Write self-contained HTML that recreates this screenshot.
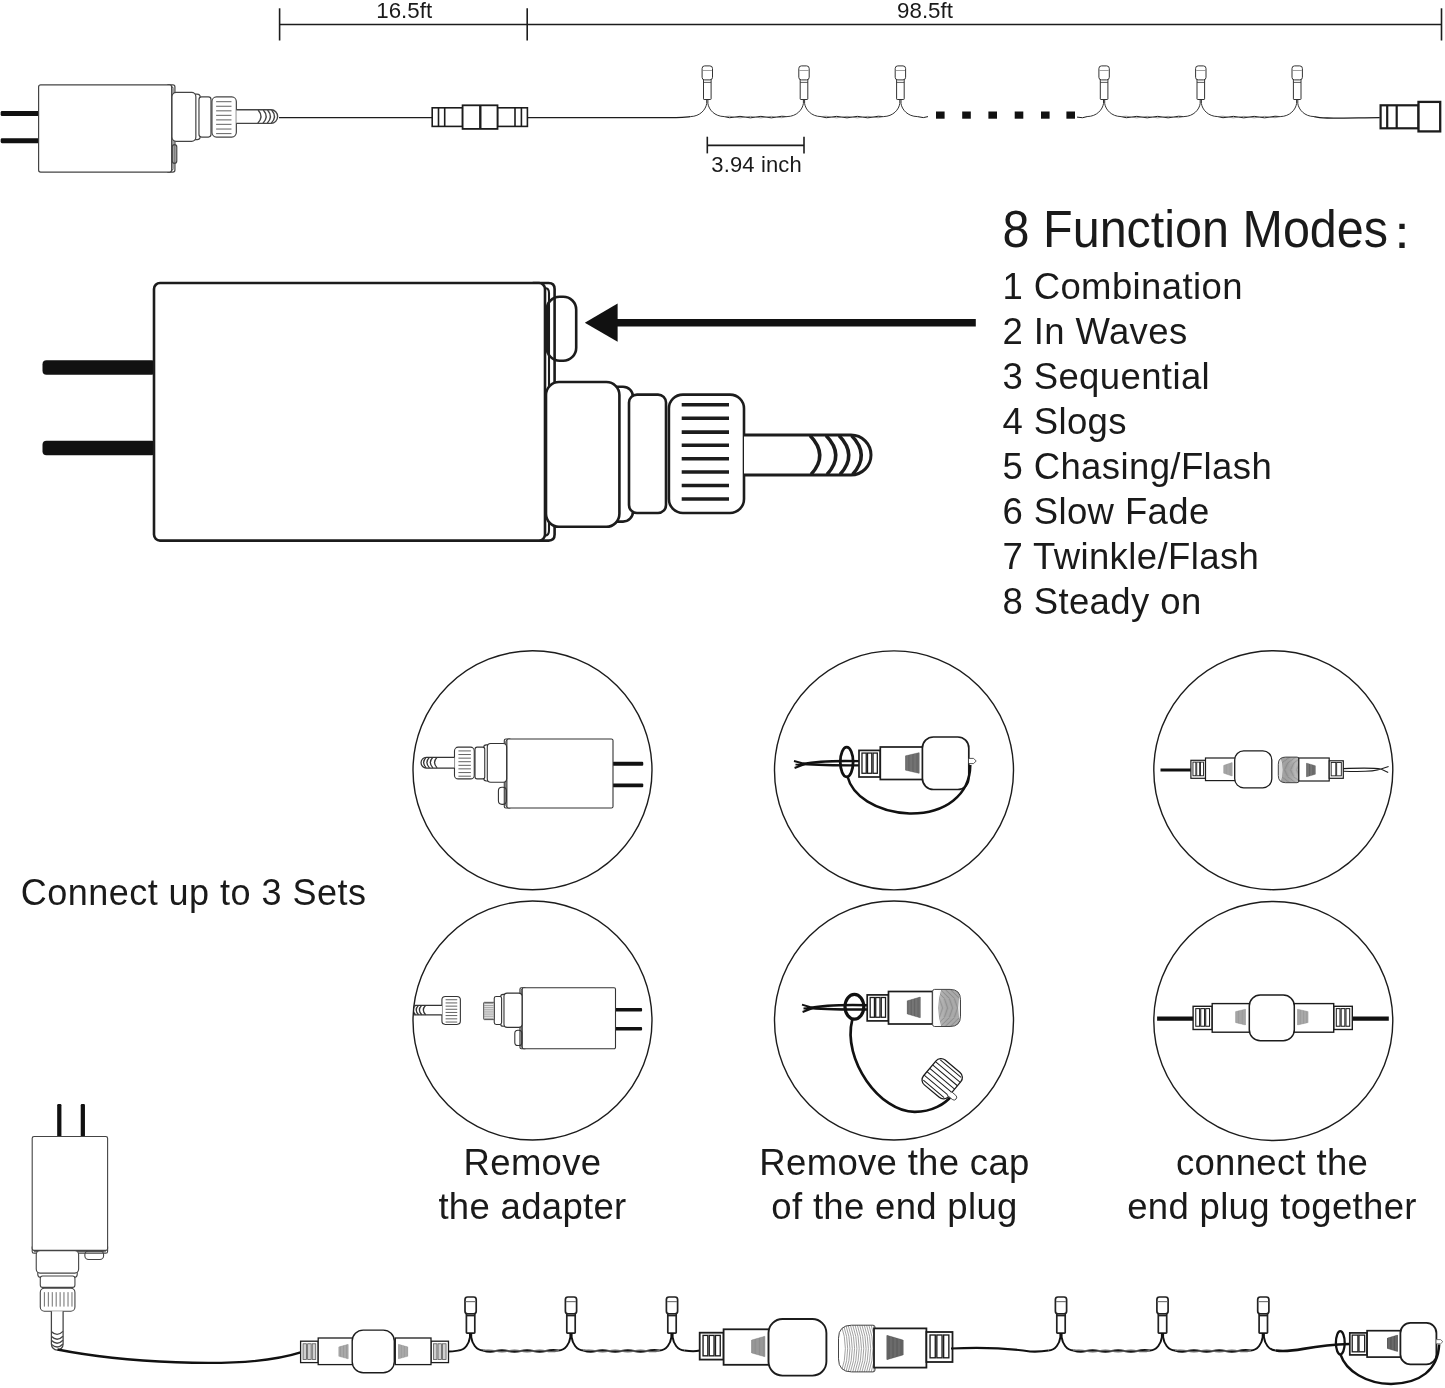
<!DOCTYPE html>
<html lang="en">
<head>
<meta charset="utf-8">
<title>8 Function Modes - Connect up to 3 Sets</title>
<style>
html,body{margin:0;padding:0;background:#fff;}
body{width:1445px;height:1388px;overflow:hidden;font-family:"Liberation Sans",sans-serif;}
svg{display:block;will-change:transform;}
svg text{font-family:"Liberation Sans",sans-serif;}
</style>
</head>
<body>
<svg width="1445" height="1388" viewBox="0 0 1445 1388">
<rect x="0" y="0" width="1445" height="1388" fill="#ffffff"/>
<line x1="279.50" y1="24.50" x2="1441.50" y2="24.50" stroke="#1c1c1c" stroke-width="1.6" />
<line x1="279.60" y1="8.30" x2="279.60" y2="40.50" stroke="#1c1c1c" stroke-width="1.6" />
<line x1="527.20" y1="8.30" x2="527.20" y2="40.50" stroke="#1c1c1c" stroke-width="1.6" />
<line x1="1441.50" y1="8.30" x2="1441.50" y2="40.50" stroke="#1c1c1c" stroke-width="1.6" />
<text x="404.2" y="17.7" font-size="22.3" text-anchor="middle" fill="#1a1a1a"  stroke="#fff" stroke-width="0.00" paint-order="fill stroke" stroke-linejoin="round">16.5ft</text>
<text x="925" y="17.8" font-size="22.3" text-anchor="middle" fill="#1a1a1a"  stroke="#fff" stroke-width="0.00" paint-order="fill stroke" stroke-linejoin="round">98.5ft</text>
<g transform="translate(38.6,84.9) scale(0.3403,0.3385)">
<rect x="-111.5" y="77.35" width="113" height="14.5" rx="4" fill="#111"/>
<rect x="-111.5" y="157.75" width="113" height="14.5" rx="4" fill="#111"/>
<path d="M380,0 H394.6 Q400.6,0 400.6,6 V251.6 Q400.6,257.6 394.6,257.6 H380 Z" fill="#fff" stroke="#444" stroke-width="1.2" vector-effect="non-scaling-stroke"/>
<rect x="0.00" y="0.00" width="391.00" height="257.60" rx="6" ry="6" fill="#fff" stroke="#444" stroke-width="1.2" vector-effect="non-scaling-stroke"/>
<path d="M391,5 Q395,5 395,10 V247.6 Q395,252.6 391,252.6" fill="none" stroke="#444" stroke-width="0.96" vector-effect="non-scaling-stroke"/>
<rect x="392.70" y="176.70" width="13.30" height="55.10" rx="6.650000000000006" ry="6.650000000000006" fill="none" stroke="#444" stroke-width="1.2" vector-effect="non-scaling-stroke"/>
<g transform="translate(17.640,265.6) scale(0.955,-1)">
<rect x="420.00" y="103.70" width="59.00" height="134.90" rx="10" ry="10" fill="#fff" stroke="#444" stroke-width="1.2" vector-effect="non-scaling-stroke"/>
<rect x="392.00" y="99.00" width="73.40" height="144.80" rx="13" ry="13" fill="#fff" stroke="#444" stroke-width="1.2" vector-effect="non-scaling-stroke"/>
<rect x="475.00" y="111.60" width="37.00" height="118.40" rx="8" ry="8" fill="#fff" stroke="#444" stroke-width="1.2" vector-effect="non-scaling-stroke"/>
<rect x="514.90" y="111.60" width="75.10" height="118.40" rx="14" ry="14" fill="#fff" stroke="#444" stroke-width="1.2" vector-effect="non-scaling-stroke"/>
<line x1="527.70" y1="121.70" x2="575.00" y2="121.70" stroke="#444" stroke-width="0.84" vector-effect="non-scaling-stroke"/>
<line x1="527.70" y1="135.20" x2="575.00" y2="135.20" stroke="#444" stroke-width="0.84" vector-effect="non-scaling-stroke"/>
<line x1="527.70" y1="149.10" x2="575.00" y2="149.10" stroke="#444" stroke-width="0.84" vector-effect="non-scaling-stroke"/>
<line x1="527.70" y1="162.20" x2="575.00" y2="162.20" stroke="#444" stroke-width="0.84" vector-effect="non-scaling-stroke"/>
<line x1="527.70" y1="175.70" x2="575.00" y2="175.70" stroke="#444" stroke-width="0.84" vector-effect="non-scaling-stroke"/>
<line x1="527.70" y1="189.00" x2="575.00" y2="189.00" stroke="#444" stroke-width="0.84" vector-effect="non-scaling-stroke"/>
<line x1="527.70" y1="202.50" x2="575.00" y2="202.50" stroke="#444" stroke-width="0.84" vector-effect="non-scaling-stroke"/>
<line x1="527.70" y1="216.00" x2="575.00" y2="216.00" stroke="#444" stroke-width="0.84" vector-effect="non-scaling-stroke"/>
<path d="M590,152 H697 A20,20 0 0 1 697,192 H590" fill="#fff" stroke="#444" stroke-width="1.38" vector-effect="non-scaling-stroke"/>
<path d="M656,152.5 Q675,172 657,191.5" fill="none" stroke="#444" stroke-width="1.38" vector-effect="non-scaling-stroke"/>
<path d="M672,152.5 Q691,172 673,191.5" fill="none" stroke="#444" stroke-width="1.38" vector-effect="non-scaling-stroke"/>
<path d="M685,152.5 Q704,172 686,191.5" fill="none" stroke="#444" stroke-width="1.38" vector-effect="non-scaling-stroke"/>
<path d="M697.5,152.5 Q716.5,172 698.5,191.5" fill="none" stroke="#444" stroke-width="1.38" vector-effect="non-scaling-stroke"/>
</g>
</g>
<line x1="279.00" y1="117.60" x2="432.20" y2="117.60" stroke="#1c1c1c" stroke-width="1.2" />
<rect x="432.20" y="107.80" width="30.40" height="18.60" rx="0" ry="0" fill="#fff" stroke="#1c1c1c" stroke-width="1.6" />
<line x1="438.50" y1="107.80" x2="438.50" y2="126.40" stroke="#1c1c1c" stroke-width="1.6" />
<line x1="444.70" y1="107.80" x2="444.70" y2="126.40" stroke="#1c1c1c" stroke-width="1.6" />
<rect x="497.50" y="107.80" width="29.90" height="18.60" rx="0" ry="0" fill="#fff" stroke="#1c1c1c" stroke-width="1.6" />
<line x1="515.00" y1="107.80" x2="515.00" y2="126.40" stroke="#1c1c1c" stroke-width="1.6" />
<line x1="521.40" y1="107.80" x2="521.40" y2="126.40" stroke="#1c1c1c" stroke-width="1.6" />
<rect x="462.60" y="105.30" width="34.90" height="23.60" rx="0" ry="0" fill="#fff" stroke="#1c1c1c" stroke-width="1.8" />
<line x1="480.30" y1="105.30" x2="480.30" y2="128.90" stroke="#1c1c1c" stroke-width="2.4" />
<path d="M527.4,117.6 H676 C683,117.6 686,117.1 690.3,116.6" fill="none" stroke="#1c1c1c" stroke-width="1.2" />
<rect x="703.50" y="78.90" width="7.60" height="20.60" rx="0.6" ry="0.6" fill="#fff" stroke="#333" stroke-width="1.0" />
<rect x="702.10" y="65.90" width="10.40" height="14.00" rx="2.6" ry="2.6" fill="#fff" stroke="#333" stroke-width="1.0" />
<line x1="702.70" y1="70.50" x2="711.90" y2="70.50" stroke="#777" stroke-width="0.7" />
<line x1="703.50" y1="82.40" x2="711.10" y2="82.40" stroke="#333" stroke-width="0.8" />
<path d="M706.7,99.5 V103.5 C705.8,109.5 700.2,116.4 690.3,116.6" fill="none" stroke="#333" stroke-width="1.0" />
<path d="M707.9,99.5 V103.5 C708.8,109.5 714.4,116.4 724.3,116.6" fill="none" stroke="#333" stroke-width="1.0" />
<rect x="800.20" y="78.90" width="7.60" height="20.60" rx="0.6" ry="0.6" fill="#fff" stroke="#333" stroke-width="1.0" />
<rect x="798.80" y="65.90" width="10.40" height="14.00" rx="2.6" ry="2.6" fill="#fff" stroke="#333" stroke-width="1.0" />
<line x1="799.40" y1="70.50" x2="808.60" y2="70.50" stroke="#777" stroke-width="0.7" />
<line x1="800.20" y1="82.40" x2="807.80" y2="82.40" stroke="#333" stroke-width="0.8" />
<path d="M803.4,99.5 V103.5 C802.5,109.5 796.9,116.4 787.0,116.6" fill="none" stroke="#333" stroke-width="1.0" />
<path d="M804.6,99.5 V103.5 C805.5,109.5 811.1,116.4 821.0,116.6" fill="none" stroke="#333" stroke-width="1.0" />
<rect x="896.60" y="78.90" width="7.60" height="20.60" rx="0.6" ry="0.6" fill="#fff" stroke="#333" stroke-width="1.0" />
<rect x="895.20" y="65.90" width="10.40" height="14.00" rx="2.6" ry="2.6" fill="#fff" stroke="#333" stroke-width="1.0" />
<line x1="895.80" y1="70.50" x2="905.00" y2="70.50" stroke="#777" stroke-width="0.7" />
<line x1="896.60" y1="82.40" x2="904.20" y2="82.40" stroke="#333" stroke-width="0.8" />
<path d="M899.8,99.5 V103.5 C898.9,109.5 893.3,116.4 883.4,116.6" fill="none" stroke="#333" stroke-width="1.0" />
<path d="M901.0,99.5 V103.5 C901.9,109.5 907.5,116.4 917.4,116.6" fill="none" stroke="#333" stroke-width="1.0" />
<path d="M724.3,116.6 Q729.5,118.6 734.8,117.1 Q740.0,115.6 745.2,117.1 Q750.4,118.6 755.6,117.1 Q760.9,115.6 766.1,117.1 Q771.3,118.6 776.5,117.1 Q781.8,115.6 787.0,116.6" fill="none" stroke="#1c1c1c" stroke-width="1.0" />
<path d="M724.3,116.6 Q729.5,115.6 734.8,117.1 Q740.0,118.6 745.2,117.1 Q750.4,115.6 755.6,117.1 Q760.9,118.6 766.1,117.1 Q771.3,115.6 776.5,117.1 Q781.8,118.6 787.0,116.6" fill="none" stroke="#666" stroke-width="0.7" />
<path d="M821.0,116.6 Q826.2,118.6 831.4,117.1 Q836.6,115.6 841.8,117.1 Q847.0,118.6 852.2,117.1 Q857.4,115.6 862.6,117.1 Q867.8,118.6 873.0,117.1 Q878.2,115.6 883.4,116.6" fill="none" stroke="#1c1c1c" stroke-width="1.0" />
<path d="M821.0,116.6 Q826.2,115.6 831.4,117.1 Q836.6,118.6 841.8,117.1 Q847.0,115.6 852.2,117.1 Q857.4,118.6 862.6,117.1 Q867.8,115.6 873.0,117.1 Q878.2,118.6 883.4,116.6" fill="none" stroke="#666" stroke-width="0.7" />
<path d="M917.4,116.6 Q924,118.6 928,116.6" fill="none" stroke="#1c1c1c" stroke-width="1.0" />
<rect x="936" y="111.5" width="8.6" height="7.2" fill="#111"/>
<rect x="962.2" y="111.5" width="8.6" height="7.2" fill="#111"/>
<rect x="988.4" y="111.5" width="8.6" height="7.2" fill="#111"/>
<rect x="1014.7" y="111.5" width="8.6" height="7.2" fill="#111"/>
<rect x="1041" y="111.5" width="8.6" height="7.2" fill="#111"/>
<rect x="1066.4" y="111.5" width="8.6" height="7.2" fill="#111"/>
<rect x="1100.30" y="78.90" width="7.60" height="20.60" rx="0.6" ry="0.6" fill="#fff" stroke="#333" stroke-width="1.0" />
<rect x="1098.90" y="65.90" width="10.40" height="14.00" rx="2.6" ry="2.6" fill="#fff" stroke="#333" stroke-width="1.0" />
<line x1="1099.50" y1="70.50" x2="1108.70" y2="70.50" stroke="#777" stroke-width="0.7" />
<line x1="1100.30" y1="82.40" x2="1107.90" y2="82.40" stroke="#333" stroke-width="0.8" />
<path d="M1103.5,99.5 V103.5 C1102.6,109.5 1097.0,116.4 1087.1,116.6" fill="none" stroke="#333" stroke-width="1.0" />
<path d="M1104.7,99.5 V103.5 C1105.6,109.5 1111.2,116.4 1121.1,116.6" fill="none" stroke="#333" stroke-width="1.0" />
<rect x="1197.00" y="78.90" width="7.60" height="20.60" rx="0.6" ry="0.6" fill="#fff" stroke="#333" stroke-width="1.0" />
<rect x="1195.60" y="65.90" width="10.40" height="14.00" rx="2.6" ry="2.6" fill="#fff" stroke="#333" stroke-width="1.0" />
<line x1="1196.20" y1="70.50" x2="1205.40" y2="70.50" stroke="#777" stroke-width="0.7" />
<line x1="1197.00" y1="82.40" x2="1204.60" y2="82.40" stroke="#333" stroke-width="0.8" />
<path d="M1200.2,99.5 V103.5 C1199.3,109.5 1193.7,116.4 1183.8,116.6" fill="none" stroke="#333" stroke-width="1.0" />
<path d="M1201.4,99.5 V103.5 C1202.3,109.5 1207.9,116.4 1217.8,116.6" fill="none" stroke="#333" stroke-width="1.0" />
<rect x="1293.40" y="78.90" width="7.60" height="20.60" rx="0.6" ry="0.6" fill="#fff" stroke="#333" stroke-width="1.0" />
<rect x="1292.00" y="65.90" width="10.40" height="14.00" rx="2.6" ry="2.6" fill="#fff" stroke="#333" stroke-width="1.0" />
<line x1="1292.60" y1="70.50" x2="1301.80" y2="70.50" stroke="#777" stroke-width="0.7" />
<line x1="1293.40" y1="82.40" x2="1301.00" y2="82.40" stroke="#333" stroke-width="0.8" />
<path d="M1296.6,99.5 V103.5 C1295.7,109.5 1290.1,116.4 1280.2,116.6" fill="none" stroke="#333" stroke-width="1.0" />
<path d="M1297.8,99.5 V103.5 C1298.7,109.5 1304.3,116.4 1314.2,116.6" fill="none" stroke="#333" stroke-width="1.0" />
<path d="M1077,117.1 Q1083,118.6 1087.1,116.6" fill="none" stroke="#1c1c1c" stroke-width="1.0" />
<path d="M1121.1,116.6 Q1126.3,118.6 1131.5,117.1 Q1136.8,115.6 1142.0,117.1 Q1147.2,118.6 1152.4,117.1 Q1157.7,115.6 1162.9,117.1 Q1168.1,118.6 1173.3,117.1 Q1178.6,115.6 1183.8,116.6" fill="none" stroke="#1c1c1c" stroke-width="1.0" />
<path d="M1121.1,116.6 Q1126.3,115.6 1131.5,117.1 Q1136.8,118.6 1142.0,117.1 Q1147.2,115.6 1152.4,117.1 Q1157.7,118.6 1162.9,117.1 Q1168.1,115.6 1173.3,117.1 Q1178.6,118.6 1183.8,116.6" fill="none" stroke="#666" stroke-width="0.7" />
<path d="M1217.8,116.6 Q1223.0,118.6 1228.2,117.1 Q1233.4,115.6 1238.6,117.1 Q1243.8,118.6 1249.0,117.1 Q1254.2,115.6 1259.4,117.1 Q1264.6,118.6 1269.8,117.1 Q1275.0,115.6 1280.2,116.6" fill="none" stroke="#1c1c1c" stroke-width="1.0" />
<path d="M1217.8,116.6 Q1223.0,115.6 1228.2,117.1 Q1233.4,118.6 1238.6,117.1 Q1243.8,115.6 1249.0,117.1 Q1254.2,118.6 1259.4,117.1 Q1264.6,115.6 1269.8,117.1 Q1275.0,118.6 1280.2,116.6" fill="none" stroke="#666" stroke-width="0.7" />
<path d="M1314.2,116.6 C1322,118.6 1330,118.1 1379.7,117.6" fill="none" stroke="#1c1c1c" stroke-width="1.3" />
<rect x="1380.60" y="105.30" width="37.90" height="23.00" rx="0" ry="0" fill="#fff" stroke="#1c1c1c" stroke-width="2.2" />
<line x1="1387.20" y1="105.30" x2="1387.20" y2="128.30" stroke="#1c1c1c" stroke-width="2.2" />
<line x1="1396.70" y1="105.30" x2="1396.70" y2="128.30" stroke="#1c1c1c" stroke-width="2.2" />
<rect x="1418.50" y="101.90" width="21.70" height="29.50" rx="0" ry="0" fill="#fff" stroke="#1c1c1c" stroke-width="2.3" />
<line x1="707.30" y1="145.30" x2="804.00" y2="145.30" stroke="#1c1c1c" stroke-width="1.7" />
<line x1="707.30" y1="136.70" x2="707.30" y2="153.40" stroke="#1c1c1c" stroke-width="1.6" />
<line x1="804.00" y1="136.70" x2="804.00" y2="153.40" stroke="#1c1c1c" stroke-width="1.6" />
<text x="756.6" y="171.5" font-size="22" text-anchor="middle" fill="#1a1a1a"  letter-spacing="0.15" stroke="#fff" stroke-width="0.00" paint-order="fill stroke" stroke-linejoin="round">3.94 inch</text>
<g transform="translate(154,283)">
<rect x="-111.5" y="77.35" width="113" height="14.5" rx="4" fill="#111"/>
<rect x="-111.5" y="157.75" width="113" height="14.5" rx="4" fill="#111"/>
<path d="M380,0 H394.6 Q400.6,0 400.6,6 V251.6 Q400.6,257.6 394.6,257.6 H380 Z" fill="#fff" stroke="#1c1c1c" stroke-width="2.6" vector-effect="non-scaling-stroke"/>
<rect x="0.00" y="0.00" width="391.00" height="257.60" rx="6" ry="6" fill="#fff" stroke="#1c1c1c" stroke-width="2.6" vector-effect="non-scaling-stroke"/>
<path d="M391,5 Q395,5 395,10 V247.6 Q395,252.6 391,252.6" fill="none" stroke="#1c1c1c" stroke-width="2.08" vector-effect="non-scaling-stroke"/>
<rect x="392.70" y="13.70" width="29.50" height="64.00" rx="13" ry="13" fill="none" stroke="#1c1c1c" stroke-width="2.6" vector-effect="non-scaling-stroke"/>
<g transform="translate(0.000,0) scale(1.0,1)">
<rect x="420.00" y="103.70" width="59.00" height="134.90" rx="10" ry="10" fill="#fff" stroke="#1c1c1c" stroke-width="2.6" vector-effect="non-scaling-stroke"/>
<rect x="392.00" y="99.00" width="73.40" height="144.80" rx="13" ry="13" fill="#fff" stroke="#1c1c1c" stroke-width="2.6" vector-effect="non-scaling-stroke"/>
<rect x="475.00" y="111.60" width="37.00" height="118.40" rx="8" ry="8" fill="#fff" stroke="#1c1c1c" stroke-width="2.6" vector-effect="non-scaling-stroke"/>
<rect x="514.90" y="111.60" width="75.10" height="118.40" rx="14" ry="14" fill="#fff" stroke="#1c1c1c" stroke-width="2.6" vector-effect="non-scaling-stroke"/>
<line x1="527.70" y1="121.70" x2="575.00" y2="121.70" stroke="#1c1c1c" stroke-width="3.6399999999999997" vector-effect="non-scaling-stroke"/>
<line x1="527.70" y1="135.20" x2="575.00" y2="135.20" stroke="#1c1c1c" stroke-width="3.6399999999999997" vector-effect="non-scaling-stroke"/>
<line x1="527.70" y1="149.10" x2="575.00" y2="149.10" stroke="#1c1c1c" stroke-width="3.6399999999999997" vector-effect="non-scaling-stroke"/>
<line x1="527.70" y1="162.20" x2="575.00" y2="162.20" stroke="#1c1c1c" stroke-width="3.6399999999999997" vector-effect="non-scaling-stroke"/>
<line x1="527.70" y1="175.70" x2="575.00" y2="175.70" stroke="#1c1c1c" stroke-width="3.6399999999999997" vector-effect="non-scaling-stroke"/>
<line x1="527.70" y1="189.00" x2="575.00" y2="189.00" stroke="#1c1c1c" stroke-width="3.6399999999999997" vector-effect="non-scaling-stroke"/>
<line x1="527.70" y1="202.50" x2="575.00" y2="202.50" stroke="#1c1c1c" stroke-width="3.6399999999999997" vector-effect="non-scaling-stroke"/>
<line x1="527.70" y1="216.00" x2="575.00" y2="216.00" stroke="#1c1c1c" stroke-width="3.6399999999999997" vector-effect="non-scaling-stroke"/>
<path d="M590,152 H697 A20,20 0 0 1 697,192 H590" fill="#fff" stroke="#1c1c1c" stroke-width="2.9899999999999998" vector-effect="non-scaling-stroke"/>
<path d="M656,152.5 Q675,172 657,191.5" fill="none" stroke="#1c1c1c" stroke-width="3.4384999999999994" vector-effect="non-scaling-stroke"/>
<path d="M672,152.5 Q691,172 673,191.5" fill="none" stroke="#1c1c1c" stroke-width="3.4384999999999994" vector-effect="non-scaling-stroke"/>
<path d="M685,152.5 Q704,172 686,191.5" fill="none" stroke="#1c1c1c" stroke-width="3.4384999999999994" vector-effect="non-scaling-stroke"/>
<path d="M697.5,152.5 Q716.5,172 698.5,191.5" fill="none" stroke="#1c1c1c" stroke-width="3.4384999999999994" vector-effect="non-scaling-stroke"/>
</g>
</g>
<path d="M584.8,322.7 L617.6,303.6 V341.7 Z" fill="#111" stroke="none" stroke-width="0" />
<line x1="616.00" y1="322.70" x2="975.80" y2="322.70" stroke="#111" stroke-width="7.6" />
<g transform="translate(1002.6,247) scale(1,1.06)">
<text x="0" y="0" font-size="48.5" text-anchor="start" fill="#1a1a1a"  stroke="#fff" stroke-width="0.00" paint-order="fill stroke" stroke-linejoin="round">8 Function Modes</text>
</g>
<text x="1377.8" y="247.6" font-size="48" text-anchor="start" fill="#1a1a1a" font-family="Liberation Sans, Noto Sans CJK SC, sans-serif" stroke="#fff" stroke-width="0.00" paint-order="fill stroke" stroke-linejoin="round">：</text>
<text x="1002.4" y="299.1" font-size="36.5" text-anchor="start" fill="#1a1a1a"  letter-spacing="0.4" stroke="#fff" stroke-width="0.00" paint-order="fill stroke" stroke-linejoin="round">1 Combination</text>
<text x="1002.4" y="344.1" font-size="36.5" text-anchor="start" fill="#1a1a1a"  letter-spacing="0.4" stroke="#fff" stroke-width="0.00" paint-order="fill stroke" stroke-linejoin="round">2 In Waves</text>
<text x="1002.4" y="389.1" font-size="36.5" text-anchor="start" fill="#1a1a1a"  letter-spacing="0.4" stroke="#fff" stroke-width="0.00" paint-order="fill stroke" stroke-linejoin="round">3 Sequential</text>
<text x="1002.4" y="434.1" font-size="36.5" text-anchor="start" fill="#1a1a1a"  letter-spacing="0.4" stroke="#fff" stroke-width="0.00" paint-order="fill stroke" stroke-linejoin="round">4 Slogs</text>
<text x="1002.4" y="479.1" font-size="36.5" text-anchor="start" fill="#1a1a1a"  letter-spacing="0.4" stroke="#fff" stroke-width="0.00" paint-order="fill stroke" stroke-linejoin="round">5 Chasing/Flash</text>
<text x="1002.4" y="524.1" font-size="36.5" text-anchor="start" fill="#1a1a1a"  letter-spacing="0.4" stroke="#fff" stroke-width="0.00" paint-order="fill stroke" stroke-linejoin="round">6 Slow Fade</text>
<text x="1002.4" y="569.1" font-size="36.5" text-anchor="start" fill="#1a1a1a"  letter-spacing="0.4" stroke="#fff" stroke-width="0.00" paint-order="fill stroke" stroke-linejoin="round">7 Twinkle/Flash</text>
<text x="1002.4" y="614.1" font-size="36.5" text-anchor="start" fill="#1a1a1a"  letter-spacing="0.4" stroke="#fff" stroke-width="0.00" paint-order="fill stroke" stroke-linejoin="round">8 Steady on</text>
<clipPath id="cl0"><circle cx="532.5" cy="770.3" r="119"/></clipPath>
<clipPath id="cl1"><circle cx="532.5" cy="1020.5" r="119"/></clipPath>
<clipPath id="cl2"><circle cx="894" cy="770.4" r="119"/></clipPath>
<clipPath id="cl3"><circle cx="894" cy="1020.5" r="119"/></clipPath>
<clipPath id="cl4"><circle cx="1273.3" cy="770.2" r="119"/></clipPath>
<clipPath id="cl5"><circle cx="1273.3" cy="1021" r="119"/></clipPath>
<g transform="translate(613,808) scale(-0.2714,-0.268)">
<rect x="-111.5" y="77.35" width="113" height="14.5" rx="4" fill="#111"/>
<rect x="-111.5" y="157.75" width="113" height="14.5" rx="4" fill="#111"/>
<path d="M380,0 H394.6 Q400.6,0 400.6,6 V251.6 Q400.6,257.6 394.6,257.6 H380 Z" fill="#fff" stroke="#333" stroke-width="1.1" vector-effect="non-scaling-stroke"/>
<rect x="0.00" y="0.00" width="391.00" height="257.60" rx="6" ry="6" fill="#fff" stroke="#333" stroke-width="1.1" vector-effect="non-scaling-stroke"/>
<path d="M391,5 Q395,5 395,10 V247.6 Q395,252.6 391,252.6" fill="none" stroke="#333" stroke-width="0.8800000000000001" vector-effect="non-scaling-stroke"/>
<rect x="392.70" y="13.70" width="29.50" height="64.00" rx="13" ry="13" fill="none" stroke="#333" stroke-width="1.1" vector-effect="non-scaling-stroke"/>
<g transform="translate(11.760,-3) scale(0.97,1)">
<rect x="420.00" y="103.70" width="59.00" height="134.90" rx="10" ry="10" fill="#fff" stroke="#333" stroke-width="1.1" vector-effect="non-scaling-stroke"/>
<rect x="392.00" y="99.00" width="73.40" height="144.80" rx="13" ry="13" fill="#fff" stroke="#333" stroke-width="1.1" vector-effect="non-scaling-stroke"/>
<rect x="475.00" y="111.60" width="37.00" height="118.40" rx="8" ry="8" fill="#fff" stroke="#333" stroke-width="1.1" vector-effect="non-scaling-stroke"/>
<rect x="514.90" y="111.60" width="75.10" height="118.40" rx="14" ry="14" fill="#fff" stroke="#333" stroke-width="1.1" vector-effect="non-scaling-stroke"/>
<line x1="527.70" y1="121.70" x2="575.00" y2="121.70" stroke="#333" stroke-width="0.77" vector-effect="non-scaling-stroke"/>
<line x1="527.70" y1="135.20" x2="575.00" y2="135.20" stroke="#333" stroke-width="0.77" vector-effect="non-scaling-stroke"/>
<line x1="527.70" y1="149.10" x2="575.00" y2="149.10" stroke="#333" stroke-width="0.77" vector-effect="non-scaling-stroke"/>
<line x1="527.70" y1="162.20" x2="575.00" y2="162.20" stroke="#333" stroke-width="0.77" vector-effect="non-scaling-stroke"/>
<line x1="527.70" y1="175.70" x2="575.00" y2="175.70" stroke="#333" stroke-width="0.77" vector-effect="non-scaling-stroke"/>
<line x1="527.70" y1="189.00" x2="575.00" y2="189.00" stroke="#333" stroke-width="0.77" vector-effect="non-scaling-stroke"/>
<line x1="527.70" y1="202.50" x2="575.00" y2="202.50" stroke="#333" stroke-width="0.77" vector-effect="non-scaling-stroke"/>
<line x1="527.70" y1="216.00" x2="575.00" y2="216.00" stroke="#333" stroke-width="0.77" vector-effect="non-scaling-stroke"/>
<path d="M590,152 H697 A20,20 0 0 1 697,192 H590" fill="#fff" stroke="#333" stroke-width="1.265" vector-effect="non-scaling-stroke"/>
<path d="M656,152.5 Q675,172 657,191.5" fill="none" stroke="#333" stroke-width="1.265" vector-effect="non-scaling-stroke"/>
<path d="M672,152.5 Q691,172 673,191.5" fill="none" stroke="#333" stroke-width="1.265" vector-effect="non-scaling-stroke"/>
<path d="M685,152.5 Q704,172 686,191.5" fill="none" stroke="#333" stroke-width="1.265" vector-effect="non-scaling-stroke"/>
<path d="M697.5,152.5 Q716.5,172 698.5,191.5" fill="none" stroke="#333" stroke-width="1.265" vector-effect="non-scaling-stroke"/>
</g>
</g>
<g clip-path="url(#cl1)">
<g transform="translate(615.5,1048.7) scale(-0.2385,-0.2365)">
<rect x="-111.5" y="77.35" width="113" height="14.5" rx="4" fill="#111"/>
<rect x="-111.5" y="157.75" width="113" height="14.5" rx="4" fill="#111"/>
<path d="M380,0 H394.6 Q400.6,0 400.6,6 V251.6 Q400.6,257.6 394.6,257.6 H380 Z" fill="#fff" stroke="#333" stroke-width="1.1" vector-effect="non-scaling-stroke"/>
<rect x="0.00" y="0.00" width="391.00" height="257.60" rx="6" ry="6" fill="#fff" stroke="#333" stroke-width="1.1" vector-effect="non-scaling-stroke"/>
<path d="M391,5 Q395,5 395,10 V247.6 Q395,252.6 391,252.6" fill="none" stroke="#333" stroke-width="0.8800000000000001" vector-effect="non-scaling-stroke"/>
<rect x="392.70" y="13.70" width="29.50" height="64.00" rx="13" ry="13" fill="none" stroke="#333" stroke-width="1.1" vector-effect="non-scaling-stroke"/>
<g transform="translate(-11.760,-9) scale(1.03,1)">
<rect x="420.00" y="103.70" width="59.00" height="134.90" rx="10" ry="10" fill="#fff" stroke="#333" stroke-width="1.1" vector-effect="non-scaling-stroke"/>
<rect x="392.00" y="99.00" width="73.40" height="144.80" rx="13" ry="13" fill="#fff" stroke="#333" stroke-width="1.1" vector-effect="non-scaling-stroke"/>
<rect x="475.00" y="111.60" width="30.00" height="118.40" rx="8" ry="8" fill="#fff" stroke="#333" stroke-width="1.1" vector-effect="non-scaling-stroke"/>
<rect x="505.00" y="132.00" width="43.00" height="73.00" rx="3" ry="3" fill="#f2f2f2" stroke="#333" stroke-width="0.8800000000000001" vector-effect="non-scaling-stroke"/>
<line x1="508.00" y1="136.00" x2="546.00" y2="136.00" stroke="#666" stroke-width="0.6" vector-effect="non-scaling-stroke"/>
<line x1="508.00" y1="144.00" x2="546.00" y2="144.00" stroke="#666" stroke-width="0.6" vector-effect="non-scaling-stroke"/>
<line x1="508.00" y1="152.00" x2="546.00" y2="152.00" stroke="#666" stroke-width="0.6" vector-effect="non-scaling-stroke"/>
<line x1="508.00" y1="160.00" x2="546.00" y2="160.00" stroke="#666" stroke-width="0.6" vector-effect="non-scaling-stroke"/>
<line x1="508.00" y1="168.00" x2="546.00" y2="168.00" stroke="#666" stroke-width="0.6" vector-effect="non-scaling-stroke"/>
<line x1="508.00" y1="176.00" x2="546.00" y2="176.00" stroke="#666" stroke-width="0.6" vector-effect="non-scaling-stroke"/>
<line x1="508.00" y1="184.00" x2="546.00" y2="184.00" stroke="#666" stroke-width="0.6" vector-effect="non-scaling-stroke"/>
<line x1="508.00" y1="192.00" x2="546.00" y2="192.00" stroke="#666" stroke-width="0.6" vector-effect="non-scaling-stroke"/>
<line x1="508.00" y1="200.00" x2="546.00" y2="200.00" stroke="#666" stroke-width="0.6" vector-effect="non-scaling-stroke"/>
<rect x="642.90" y="111.60" width="75.10" height="118.40" rx="14" ry="14" fill="#fff" stroke="#333" stroke-width="1.1" vector-effect="non-scaling-stroke"/>
<line x1="655.70" y1="121.70" x2="703.00" y2="121.70" stroke="#333" stroke-width="0.77" vector-effect="non-scaling-stroke"/>
<line x1="655.70" y1="135.20" x2="703.00" y2="135.20" stroke="#333" stroke-width="0.77" vector-effect="non-scaling-stroke"/>
<line x1="655.70" y1="149.10" x2="703.00" y2="149.10" stroke="#333" stroke-width="0.77" vector-effect="non-scaling-stroke"/>
<line x1="655.70" y1="162.20" x2="703.00" y2="162.20" stroke="#333" stroke-width="0.77" vector-effect="non-scaling-stroke"/>
<line x1="655.70" y1="175.70" x2="703.00" y2="175.70" stroke="#333" stroke-width="0.77" vector-effect="non-scaling-stroke"/>
<line x1="655.70" y1="189.00" x2="703.00" y2="189.00" stroke="#333" stroke-width="0.77" vector-effect="non-scaling-stroke"/>
<line x1="655.70" y1="202.50" x2="703.00" y2="202.50" stroke="#333" stroke-width="0.77" vector-effect="non-scaling-stroke"/>
<line x1="655.70" y1="216.00" x2="703.00" y2="216.00" stroke="#333" stroke-width="0.77" vector-effect="non-scaling-stroke"/>
<path d="M718,152 H825 A20,20 0 0 1 825,192 H718" fill="#fff" stroke="#333" stroke-width="1.265" vector-effect="non-scaling-stroke"/>
<path d="M784,152.5 Q803,172 785,191.5" fill="none" stroke="#333" stroke-width="1.265" vector-effect="non-scaling-stroke"/>
<path d="M800,152.5 Q819,172 801,191.5" fill="none" stroke="#333" stroke-width="1.265" vector-effect="non-scaling-stroke"/>
<path d="M813,152.5 Q832,172 814,191.5" fill="none" stroke="#333" stroke-width="1.265" vector-effect="non-scaling-stroke"/>
<path d="M825.5,152.5 Q844.5,172 826.5,191.5" fill="none" stroke="#333" stroke-width="1.265" vector-effect="non-scaling-stroke"/>
</g>
</g>
</g>
<path d="M803,764 C815,761.6 835,760.6 859.5,761.2" fill="none" stroke="#111" stroke-width="2.3" />
<path d="M803,764 C815,765 835,765.4 859.5,765.4" fill="none" stroke="#111" stroke-width="2.3" />
<path d="M805,764 L794,761 M805,764 L794.6,768 M803,764 L795.5,764.6" fill="none" stroke="#111" stroke-width="1.9" />
<ellipse cx="846.7" cy="762" rx="6.4" ry="14.8" fill="none" stroke="#111" stroke-width="2.8"/>
<rect x="859.00" y="750.40" width="21.30" height="26.60" rx="0" ry="0" fill="#fff" stroke="#1c1c1c" stroke-width="1.7" />
<rect x="861.98" y="753.06" width="4.26" height="20.22" rx="0" ry="0" fill="#fff" stroke="#1c1c1c" stroke-width="1.275" />
<rect x="867.52" y="753.06" width="4.26" height="20.22" rx="0" ry="0" fill="#fff" stroke="#1c1c1c" stroke-width="1.275" />
<rect x="873.06" y="753.06" width="4.26" height="20.22" rx="0" ry="0" fill="#fff" stroke="#1c1c1c" stroke-width="1.275" />
<rect x="880.30" y="747.00" width="42.70" height="32.50" rx="0" ry="0" fill="#fff" stroke="#1c1c1c" stroke-width="1.7" />
<path d="M905.7,755.75 L919,752.65 V773.35 L905.7,770.25 Z" fill="#444" stroke="#444" stroke-width="0.3" fill-opacity="0.6"/>
<line x1="905.70" y1="755.75" x2="905.70" y2="770.25" stroke="#444" stroke-width="0.6" />
<line x1="907.03" y1="755.44" x2="907.03" y2="770.56" stroke="#444" stroke-width="0.6" />
<line x1="908.36" y1="755.13" x2="908.36" y2="770.87" stroke="#444" stroke-width="0.6" />
<line x1="909.69" y1="754.82" x2="909.69" y2="771.18" stroke="#444" stroke-width="0.6" />
<line x1="911.02" y1="754.51" x2="911.02" y2="771.49" stroke="#444" stroke-width="0.6" />
<line x1="912.35" y1="754.20" x2="912.35" y2="771.80" stroke="#444" stroke-width="0.6" />
<line x1="913.68" y1="753.89" x2="913.68" y2="772.11" stroke="#444" stroke-width="0.6" />
<line x1="915.01" y1="753.58" x2="915.01" y2="772.42" stroke="#444" stroke-width="0.6" />
<line x1="916.34" y1="753.27" x2="916.34" y2="772.73" stroke="#444" stroke-width="0.6" />
<line x1="917.67" y1="752.96" x2="917.67" y2="773.04" stroke="#444" stroke-width="0.6" />
<line x1="919.00" y1="752.65" x2="919.00" y2="773.35" stroke="#444" stroke-width="0.6" />
<rect x="922.40" y="737.00" width="46.40" height="52.50" rx="11" ry="11" fill="#fff" stroke="#1c1c1c" stroke-width="1.7" />
<path d="M968.8,758.4 H973.6 L976.2,761 L973.6,763.6 H968.8" fill="#fff" stroke="#444" stroke-width="0.9" />
<path d="M847.5,776.5 C852,795 875,812 909.5,813.4 C945,814 970,795 970.3,765" fill="none" stroke="#111" stroke-width="2.5" />
<path d="M811,1008 C822,1005.4 840,1004.6 867.5,1005.2" fill="none" stroke="#111" stroke-width="2.5" />
<path d="M811,1008 C822,1009 840,1009.6 867.5,1009.6" fill="none" stroke="#111" stroke-width="2.5" />
<path d="M813,1008 L802,1004.6 M813,1008 L802.6,1012 M811,1008 L803.5,1008.4" fill="none" stroke="#111" stroke-width="2.0" />
<ellipse cx="854.4" cy="1006.7" rx="9.4" ry="12.4" fill="none" stroke="#111" stroke-width="3.2"/>
<rect x="867.20" y="994.90" width="21.30" height="26.00" rx="0" ry="0" fill="#fff" stroke="#1c1c1c" stroke-width="1.7" />
<rect x="870.18" y="997.50" width="4.26" height="19.76" rx="0" ry="0" fill="#fff" stroke="#1c1c1c" stroke-width="1.275" />
<rect x="875.72" y="997.50" width="4.26" height="19.76" rx="0" ry="0" fill="#fff" stroke="#1c1c1c" stroke-width="1.275" />
<rect x="881.26" y="997.50" width="4.26" height="19.76" rx="0" ry="0" fill="#fff" stroke="#1c1c1c" stroke-width="1.275" />
<rect x="888.50" y="991.50" width="44.10" height="32.50" rx="0" ry="0" fill="#fff" stroke="#1c1c1c" stroke-width="1.7" />
<path d="M907.4,1000.75 L920.1,997.05 V1017.75 L907.4,1014.05 Z" fill="#444" stroke="#444" stroke-width="0.3" fill-opacity="0.6"/>
<line x1="907.40" y1="1000.75" x2="907.40" y2="1014.05" stroke="#444" stroke-width="0.6" />
<line x1="908.81" y1="1000.34" x2="908.81" y2="1014.46" stroke="#444" stroke-width="0.6" />
<line x1="910.22" y1="999.93" x2="910.22" y2="1014.87" stroke="#444" stroke-width="0.6" />
<line x1="911.63" y1="999.52" x2="911.63" y2="1015.28" stroke="#444" stroke-width="0.6" />
<line x1="913.04" y1="999.11" x2="913.04" y2="1015.69" stroke="#444" stroke-width="0.6" />
<line x1="914.46" y1="998.69" x2="914.46" y2="1016.11" stroke="#444" stroke-width="0.6" />
<line x1="915.87" y1="998.28" x2="915.87" y2="1016.52" stroke="#444" stroke-width="0.6" />
<line x1="917.28" y1="997.87" x2="917.28" y2="1016.93" stroke="#444" stroke-width="0.6" />
<line x1="918.69" y1="997.46" x2="918.69" y2="1017.34" stroke="#444" stroke-width="0.6" />
<line x1="920.10" y1="997.05" x2="920.10" y2="1017.75" stroke="#444" stroke-width="0.6" />
<clipPath id="th1"><path d="M950.112,989.4 H934.6 Q932.6,989.4 932.6,991.4 V1024.5 Q932.6,1026.5 934.6,1026.5 H950.112 Q960.5,1026.5 960.5,1016.112 V999.788 Q960.5,989.4 950.112,989.4 Z"/></clipPath>
<linearGradient id="gth1" gradientUnits="userSpaceOnUse" x1="932.6" y1="0" x2="960.5" y2="0"><stop offset="0" stop-color="#fff"/><stop offset="0.18" stop-color="#fff"/><stop offset="0.5" stop-color="#e4e4e4"/><stop offset="1" stop-color="#e4e4e4"/></linearGradient>
<path d="M950.112,989.4 H934.6 Q932.6,989.4 932.6,991.4 V1024.5 Q932.6,1026.5 934.6,1026.5 H950.112 Q960.5,1026.5 960.5,1016.112 V999.788 Q960.5,989.4 950.112,989.4 Z" fill="url(#gth1)" stroke="none" stroke-width="0" />
<g clip-path="url(#th1)">
<path d="M942.09,988.40 Q935.39,1007.95 942.09,1027.50" fill="none" stroke="#555" stroke-width="0.6" />
<path d="M943.34,988.40 Q936.64,1007.95 943.34,1027.50" fill="none" stroke="#555" stroke-width="0.6" />
<path d="M944.59,988.40 Q937.89,1007.95 944.59,1027.50" fill="none" stroke="#555" stroke-width="0.6" />
<path d="M945.84,988.40 Q939.14,1007.95 945.84,1027.50" fill="none" stroke="#555" stroke-width="0.6" />
<path d="M947.09,988.40 Q940.39,1007.95 947.09,1027.50" fill="none" stroke="#555" stroke-width="0.6" />
<path d="M948.34,988.40 Q941.64,1007.95 948.34,1027.50" fill="none" stroke="#555" stroke-width="0.6" />
<path d="M949.59,988.40 Q942.89,1007.95 949.59,1027.50" fill="none" stroke="#555" stroke-width="0.6" />
<path d="M950.84,988.40 Q944.14,1007.95 950.84,1027.50" fill="none" stroke="#555" stroke-width="0.6" />
<path d="M952.09,988.40 Q945.39,1007.95 952.09,1027.50" fill="none" stroke="#555" stroke-width="0.6" />
<path d="M953.34,988.40 Q946.64,1007.95 953.34,1027.50" fill="none" stroke="#555" stroke-width="0.6" />
<path d="M954.59,988.40 Q947.89,1007.95 954.59,1027.50" fill="none" stroke="#555" stroke-width="0.6" />
<path d="M955.84,988.40 Q949.14,1007.95 955.84,1027.50" fill="none" stroke="#555" stroke-width="0.6" />
<path d="M957.09,988.40 Q950.39,1007.95 957.09,1027.50" fill="none" stroke="#555" stroke-width="0.6" />
<path d="M958.34,988.40 Q951.64,1007.95 958.34,1027.50" fill="none" stroke="#555" stroke-width="0.6" />
<path d="M959.59,988.40 Q952.89,1007.95 959.59,1027.50" fill="none" stroke="#555" stroke-width="0.6" />
<path d="M960.84,988.40 Q954.14,1007.95 960.84,1027.50" fill="none" stroke="#555" stroke-width="0.6" />
</g>
<path d="M950.112,989.4 H934.6 Q932.6,989.4 932.6,991.4 V1024.5 Q932.6,1026.5 934.6,1026.5 H950.112 Q960.5,1026.5 960.5,1016.112 V999.788 Q960.5,989.4 950.112,989.4 Z" fill="none" stroke="#444" stroke-width="1.0" />
<path d="M852.3,1019.5 C842,1060 880,1112 914.6,1111.9 C932,1112 945,1104 952,1095.3" fill="none" stroke="#111" stroke-width="2.7" />
<g transform="translate(942.2,1078.7) rotate(40)">
<rect x="-16.20" y="-16.20" width="32.40" height="32.40" rx="6.5" ry="6.5" fill="#fff" stroke="#1c1c1c" stroke-width="1.3" />
<line x1="-13.57" y1="-13.20" x2="13.57" y2="-13.20" stroke="#1c1c1c" stroke-width="1.0" />
<line x1="-16.20" y1="-8.80" x2="16.20" y2="-8.80" stroke="#1c1c1c" stroke-width="1.0" />
<line x1="-16.20" y1="-4.40" x2="16.20" y2="-4.40" stroke="#1c1c1c" stroke-width="1.0" />
<line x1="-16.20" y1="0.00" x2="16.20" y2="0.00" stroke="#1c1c1c" stroke-width="1.0" />
<line x1="-16.20" y1="4.40" x2="16.20" y2="4.40" stroke="#1c1c1c" stroke-width="1.0" />
<line x1="-16.20" y1="8.80" x2="16.20" y2="8.80" stroke="#1c1c1c" stroke-width="1.0" />
<line x1="-13.57" y1="13.20" x2="13.57" y2="13.20" stroke="#1c1c1c" stroke-width="1.0" />
<path d="M16.2,4 H21 A2.7,2.7 0 0 1 21,9.4 H14" fill="#fff" stroke="#444" stroke-width="0.9" />
</g>
<line x1="1160.50" y1="770.00" x2="1190.90" y2="770.00" stroke="#111" stroke-width="3" />
<rect x="1190.90" y="760.30" width="14.60" height="18.00" rx="0" ry="0" fill="#fff" stroke="#1c1c1c" stroke-width="1.2" />
<rect x="1192.94" y="762.10" width="2.92" height="13.68" rx="0" ry="0" fill="#fff" stroke="#1c1c1c" stroke-width="0.8999999999999999" />
<rect x="1196.74" y="762.10" width="2.92" height="13.68" rx="0" ry="0" fill="#fff" stroke="#1c1c1c" stroke-width="0.8999999999999999" />
<rect x="1200.54" y="762.10" width="2.92" height="13.68" rx="0" ry="0" fill="#fff" stroke="#1c1c1c" stroke-width="0.8999999999999999" />
<rect x="1205.50" y="758.00" width="30.30" height="22.60" rx="0" ry="0" fill="#fff" stroke="#1c1c1c" stroke-width="1.2" />
<path d="M1223.9,765.3 L1232,762.55 V776.05 L1223.9,773.3 Z" fill="#888" stroke="#888" stroke-width="0.3" fill-opacity="0.6"/>
<line x1="1223.90" y1="765.30" x2="1223.90" y2="773.30" stroke="#888" stroke-width="0.6" />
<line x1="1225.25" y1="764.84" x2="1225.25" y2="773.76" stroke="#888" stroke-width="0.6" />
<line x1="1226.60" y1="764.38" x2="1226.60" y2="774.22" stroke="#888" stroke-width="0.6" />
<line x1="1227.95" y1="763.92" x2="1227.95" y2="774.67" stroke="#888" stroke-width="0.6" />
<line x1="1229.30" y1="763.47" x2="1229.30" y2="775.13" stroke="#888" stroke-width="0.6" />
<line x1="1230.65" y1="763.01" x2="1230.65" y2="775.59" stroke="#888" stroke-width="0.6" />
<line x1="1232.00" y1="762.55" x2="1232.00" y2="776.05" stroke="#888" stroke-width="0.6" />
<rect x="1234.70" y="750.90" width="37.10" height="36.90" rx="9" ry="9" fill="#fff" stroke="#1c1c1c" stroke-width="1.3" />
<clipPath id="th2"><path d="M1285.468,757.1 H1297.0 Q1299,757.1 1299,759.1 V780.7 Q1299,782.7 1297.0,782.7 H1285.468 Q1278.3,782.7 1278.3,775.532 V764.268 Q1278.3,757.1 1285.468,757.1 Z"/></clipPath>
<linearGradient id="gth2" gradientUnits="userSpaceOnUse" x1="1299" y1="0" x2="1278.3" y2="0"><stop offset="0" stop-color="#fff"/><stop offset="0.18" stop-color="#fff"/><stop offset="0.5" stop-color="#dcdcdc"/><stop offset="1" stop-color="#dcdcdc"/></linearGradient>
<path d="M1285.468,757.1 H1297.0 Q1299,757.1 1299,759.1 V780.7 Q1299,782.7 1297.0,782.7 H1285.468 Q1278.3,782.7 1278.3,775.532 V764.268 Q1278.3,757.1 1285.468,757.1 Z" fill="url(#gth2)" stroke="none" stroke-width="0" />
<g clip-path="url(#th2)">
<path d="M1280.80,756.10 Q1285.77,769.90 1280.80,783.70" fill="none" stroke="#555" stroke-width="0.6" />
<path d="M1282.00,756.10 Q1286.97,769.90 1282.00,783.70" fill="none" stroke="#555" stroke-width="0.6" />
<path d="M1283.20,756.10 Q1288.17,769.90 1283.20,783.70" fill="none" stroke="#555" stroke-width="0.6" />
<path d="M1284.40,756.10 Q1289.37,769.90 1284.40,783.70" fill="none" stroke="#555" stroke-width="0.6" />
<path d="M1285.60,756.10 Q1290.57,769.90 1285.60,783.70" fill="none" stroke="#555" stroke-width="0.6" />
<path d="M1286.80,756.10 Q1291.77,769.90 1286.80,783.70" fill="none" stroke="#555" stroke-width="0.6" />
<path d="M1288.00,756.10 Q1292.97,769.90 1288.00,783.70" fill="none" stroke="#555" stroke-width="0.6" />
<path d="M1289.20,756.10 Q1294.17,769.90 1289.20,783.70" fill="none" stroke="#555" stroke-width="0.6" />
<path d="M1290.40,756.10 Q1295.37,769.90 1290.40,783.70" fill="none" stroke="#555" stroke-width="0.6" />
<path d="M1291.60,756.10 Q1296.57,769.90 1291.60,783.70" fill="none" stroke="#555" stroke-width="0.6" />
<path d="M1292.80,756.10 Q1297.77,769.90 1292.80,783.70" fill="none" stroke="#555" stroke-width="0.6" />
<path d="M1294.00,756.10 Q1298.97,769.90 1294.00,783.70" fill="none" stroke="#555" stroke-width="0.6" />
<path d="M1295.20,756.10 Q1300.17,769.90 1295.20,783.70" fill="none" stroke="#555" stroke-width="0.6" />
<path d="M1296.40,756.10 Q1301.37,769.90 1296.40,783.70" fill="none" stroke="#555" stroke-width="0.6" />
<path d="M1297.60,756.10 Q1302.57,769.90 1297.60,783.70" fill="none" stroke="#555" stroke-width="0.6" />
<path d="M1298.80,756.10 Q1303.77,769.90 1298.80,783.70" fill="none" stroke="#555" stroke-width="0.6" />
</g>
<path d="M1285.468,757.1 H1297.0 Q1299,757.1 1299,759.1 V780.7 Q1299,782.7 1297.0,782.7 H1285.468 Q1278.3,782.7 1278.3,775.532 V764.268 Q1278.3,757.1 1285.468,757.1 Z" fill="none" stroke="#444" stroke-width="1.0" />
<rect x="1298.80" y="758.00" width="30.40" height="23.00" rx="0" ry="0" fill="#fff" stroke="#1c1c1c" stroke-width="1.2" />
<path d="M1306.7,763.15 L1315.1,765.65 V774.35 L1306.7,776.85 Z" fill="#444" stroke="#444" stroke-width="0.3" fill-opacity="0.6"/>
<line x1="1306.70" y1="763.15" x2="1306.70" y2="776.85" stroke="#444" stroke-width="0.6" />
<line x1="1308.10" y1="763.57" x2="1308.10" y2="776.43" stroke="#444" stroke-width="0.6" />
<line x1="1309.50" y1="763.98" x2="1309.50" y2="776.02" stroke="#444" stroke-width="0.6" />
<line x1="1310.90" y1="764.40" x2="1310.90" y2="775.60" stroke="#444" stroke-width="0.6" />
<line x1="1312.30" y1="764.82" x2="1312.30" y2="775.18" stroke="#444" stroke-width="0.6" />
<line x1="1313.70" y1="765.23" x2="1313.70" y2="774.77" stroke="#444" stroke-width="0.6" />
<line x1="1315.10" y1="765.65" x2="1315.10" y2="774.35" stroke="#444" stroke-width="0.6" />
<rect x="1329.20" y="760.80" width="14.10" height="17.50" rx="0" ry="0" fill="#fff" stroke="#1c1c1c" stroke-width="1.2" />
<rect x="1331.17" y="762.55" width="4.65" height="13.30" rx="0" ry="0" fill="#fff" stroke="#1c1c1c" stroke-width="0.8999999999999999" />
<rect x="1336.67" y="762.55" width="4.65" height="13.30" rx="0" ry="0" fill="#fff" stroke="#1c1c1c" stroke-width="0.8999999999999999" />
<path d="M1343.3,768.6 C1360,768 1375,768 1381,769 L1388.6,766.4 M1343.3,771.2 C1360,771.8 1375,771.6 1381,769 L1388.2,772.6" fill="none" stroke="#1c1c1c" stroke-width="1.1" />
<line x1="1157.10" y1="1018.70" x2="1193.10" y2="1018.70" stroke="#111" stroke-width="4.2" />
<line x1="1352.30" y1="1018.70" x2="1388.80" y2="1018.70" stroke="#111" stroke-width="4.2" />
<rect x="1193.10" y="1006.30" width="19.10" height="23.20" rx="0" ry="0" fill="#fff" stroke="#1c1c1c" stroke-width="1.4" />
<rect x="1195.77" y="1008.62" width="3.82" height="17.63" rx="0" ry="0" fill="#fff" stroke="#1c1c1c" stroke-width="1.0499999999999998" />
<rect x="1200.74" y="1008.62" width="3.82" height="17.63" rx="0" ry="0" fill="#fff" stroke="#1c1c1c" stroke-width="1.0499999999999998" />
<rect x="1205.71" y="1008.62" width="3.82" height="17.63" rx="0" ry="0" fill="#fff" stroke="#1c1c1c" stroke-width="1.0499999999999998" />
<rect x="1212.20" y="1003.60" width="37.60" height="28.60" rx="0" ry="0" fill="#fff" stroke="#1c1c1c" stroke-width="1.4" />
<rect x="1333.70" y="1006.30" width="18.60" height="23.20" rx="0" ry="0" fill="#fff" stroke="#1c1c1c" stroke-width="1.4" />
<rect x="1336.30" y="1008.62" width="3.72" height="17.63" rx="0" ry="0" fill="#fff" stroke="#1c1c1c" stroke-width="1.0499999999999998" />
<rect x="1341.14" y="1008.62" width="3.72" height="17.63" rx="0" ry="0" fill="#fff" stroke="#1c1c1c" stroke-width="1.0499999999999998" />
<rect x="1345.98" y="1008.62" width="3.72" height="17.63" rx="0" ry="0" fill="#fff" stroke="#1c1c1c" stroke-width="1.0499999999999998" />
<rect x="1294.30" y="1003.60" width="39.40" height="28.60" rx="0" ry="0" fill="#fff" stroke="#1c1c1c" stroke-width="1.4" />
<rect x="1249.30" y="995.00" width="45.00" height="45.70" rx="11" ry="11" fill="#fff" stroke="#1c1c1c" stroke-width="1.5" />
<path d="M1235.8,1011.5 L1245.3,1009.2 V1025.0 L1235.8,1022.7 Z" fill="#888" stroke="#888" stroke-width="0.3" fill-opacity="0.6"/>
<line x1="1235.80" y1="1011.50" x2="1235.80" y2="1022.70" stroke="#888" stroke-width="0.6" />
<line x1="1237.16" y1="1011.17" x2="1237.16" y2="1023.03" stroke="#888" stroke-width="0.6" />
<line x1="1238.51" y1="1010.84" x2="1238.51" y2="1023.36" stroke="#888" stroke-width="0.6" />
<line x1="1239.87" y1="1010.51" x2="1239.87" y2="1023.69" stroke="#888" stroke-width="0.6" />
<line x1="1241.23" y1="1010.19" x2="1241.23" y2="1024.01" stroke="#888" stroke-width="0.6" />
<line x1="1242.59" y1="1009.86" x2="1242.59" y2="1024.34" stroke="#888" stroke-width="0.6" />
<line x1="1243.94" y1="1009.53" x2="1243.94" y2="1024.67" stroke="#888" stroke-width="0.6" />
<line x1="1245.30" y1="1009.20" x2="1245.30" y2="1025.00" stroke="#888" stroke-width="0.6" />
<path d="M1307.8,1011.5 L1297.7,1009.2 V1025.0 L1307.8,1022.7 Z" fill="#888" stroke="#888" stroke-width="0.3" fill-opacity="0.6"/>
<line x1="1307.80" y1="1011.50" x2="1307.80" y2="1022.70" stroke="#888" stroke-width="0.6" />
<line x1="1306.36" y1="1011.17" x2="1306.36" y2="1023.03" stroke="#888" stroke-width="0.6" />
<line x1="1304.91" y1="1010.84" x2="1304.91" y2="1023.36" stroke="#888" stroke-width="0.6" />
<line x1="1303.47" y1="1010.51" x2="1303.47" y2="1023.69" stroke="#888" stroke-width="0.6" />
<line x1="1302.03" y1="1010.19" x2="1302.03" y2="1024.01" stroke="#888" stroke-width="0.6" />
<line x1="1300.59" y1="1009.86" x2="1300.59" y2="1024.34" stroke="#888" stroke-width="0.6" />
<line x1="1299.14" y1="1009.53" x2="1299.14" y2="1024.67" stroke="#888" stroke-width="0.6" />
<line x1="1297.70" y1="1009.20" x2="1297.70" y2="1025.00" stroke="#888" stroke-width="0.6" />
<circle cx="532.5" cy="770.3" r="119.5" fill="none" stroke="#1c1c1c" stroke-width="1.4"/>
<circle cx="532.5" cy="1020.5" r="119.5" fill="none" stroke="#1c1c1c" stroke-width="1.4"/>
<circle cx="894" cy="770.4" r="119.5" fill="none" stroke="#1c1c1c" stroke-width="1.4"/>
<circle cx="894" cy="1020.5" r="119.5" fill="none" stroke="#1c1c1c" stroke-width="1.4"/>
<circle cx="1273.3" cy="770.2" r="119.5" fill="none" stroke="#1c1c1c" stroke-width="1.4"/>
<circle cx="1273.3" cy="1021" r="119.5" fill="none" stroke="#1c1c1c" stroke-width="1.4"/>
<text x="532.5" y="1175" font-size="36.5" text-anchor="middle" fill="#1a1a1a"  letter-spacing="0.32" stroke="#fff" stroke-width="0.00" paint-order="fill stroke" stroke-linejoin="round">Remove</text>
<text x="532.5" y="1218.5" font-size="36.5" text-anchor="middle" fill="#1a1a1a"  letter-spacing="0.32" stroke="#fff" stroke-width="0.00" paint-order="fill stroke" stroke-linejoin="round">the adapter</text>
<text x="894.5" y="1175" font-size="36.5" text-anchor="middle" fill="#1a1a1a"  letter-spacing="0.32" stroke="#fff" stroke-width="0.00" paint-order="fill stroke" stroke-linejoin="round">Remove the cap</text>
<text x="894.5" y="1218.5" font-size="36.5" text-anchor="middle" fill="#1a1a1a"  letter-spacing="0.32" stroke="#fff" stroke-width="0.00" paint-order="fill stroke" stroke-linejoin="round">of the end plug</text>
<text x="1272" y="1175" font-size="36.5" text-anchor="middle" fill="#1a1a1a"  letter-spacing="0.32" stroke="#fff" stroke-width="0.00" paint-order="fill stroke" stroke-linejoin="round">connect the</text>
<text x="1272" y="1218.5" font-size="36.5" text-anchor="middle" fill="#1a1a1a"  letter-spacing="0.32" stroke="#fff" stroke-width="0.00" paint-order="fill stroke" stroke-linejoin="round">end plug together</text>
<text x="20.7" y="904.6" font-size="36" text-anchor="start" fill="#1a1a1a"  letter-spacing="0.48" stroke="#fff" stroke-width="0.00" paint-order="fill stroke" stroke-linejoin="round">Connect up to 3 Sets</text>
<g transform="matrix(0,0.2912,-0.2927,0,107.6,1136.5)">
<rect x="-111.5" y="77.35" width="113" height="14.5" rx="4" fill="#111"/>
<rect x="-111.5" y="157.75" width="113" height="14.5" rx="4" fill="#111"/>
<path d="M380,0 H394.6 Q400.6,0 400.6,6 V251.6 Q400.6,257.6 394.6,257.6 H380 Z" fill="#fff" stroke="#444" stroke-width="1.1" vector-effect="non-scaling-stroke"/>
<rect x="0.00" y="0.00" width="391.00" height="257.60" rx="6" ry="6" fill="#fff" stroke="#444" stroke-width="1.1" vector-effect="non-scaling-stroke"/>
<path d="M391,5 Q395,5 395,10 V247.6 Q395,252.6 391,252.6" fill="none" stroke="#444" stroke-width="0.8800000000000001" vector-effect="non-scaling-stroke"/>
<rect x="392.70" y="13.70" width="29.50" height="64.00" rx="13" ry="13" fill="none" stroke="#444" stroke-width="1.1" vector-effect="non-scaling-stroke"/>
<g transform="translate(-19.600,0) scale(1.05,1)">
<rect x="420.00" y="103.70" width="59.00" height="134.90" rx="10" ry="10" fill="#fff" stroke="#444" stroke-width="1.1" vector-effect="non-scaling-stroke"/>
<rect x="392.00" y="99.00" width="73.40" height="144.80" rx="13" ry="13" fill="#fff" stroke="#444" stroke-width="1.1" vector-effect="non-scaling-stroke"/>
<rect x="475.00" y="111.60" width="37.00" height="118.40" rx="8" ry="8" fill="#fff" stroke="#444" stroke-width="1.1" vector-effect="non-scaling-stroke"/>
<rect x="514.90" y="111.60" width="75.10" height="118.40" rx="14" ry="14" fill="#fff" stroke="#444" stroke-width="1.1" vector-effect="non-scaling-stroke"/>
<line x1="527.70" y1="121.70" x2="575.00" y2="121.70" stroke="#444" stroke-width="0.77" vector-effect="non-scaling-stroke"/>
<line x1="527.70" y1="135.20" x2="575.00" y2="135.20" stroke="#444" stroke-width="0.77" vector-effect="non-scaling-stroke"/>
<line x1="527.70" y1="149.10" x2="575.00" y2="149.10" stroke="#444" stroke-width="0.77" vector-effect="non-scaling-stroke"/>
<line x1="527.70" y1="162.20" x2="575.00" y2="162.20" stroke="#444" stroke-width="0.77" vector-effect="non-scaling-stroke"/>
<line x1="527.70" y1="175.70" x2="575.00" y2="175.70" stroke="#444" stroke-width="0.77" vector-effect="non-scaling-stroke"/>
<line x1="527.70" y1="189.00" x2="575.00" y2="189.00" stroke="#444" stroke-width="0.77" vector-effect="non-scaling-stroke"/>
<line x1="527.70" y1="202.50" x2="575.00" y2="202.50" stroke="#444" stroke-width="0.77" vector-effect="non-scaling-stroke"/>
<line x1="527.70" y1="216.00" x2="575.00" y2="216.00" stroke="#444" stroke-width="0.77" vector-effect="non-scaling-stroke"/>
<path d="M590,152 H697 A20,20 0 0 1 697,192 H590" fill="#fff" stroke="#444" stroke-width="1.265" vector-effect="non-scaling-stroke"/>
<path d="M656,152.5 Q675,172 657,191.5" fill="none" stroke="#444" stroke-width="1.265" vector-effect="non-scaling-stroke"/>
<path d="M672,152.5 Q691,172 673,191.5" fill="none" stroke="#444" stroke-width="1.265" vector-effect="non-scaling-stroke"/>
<path d="M685,152.5 Q704,172 686,191.5" fill="none" stroke="#444" stroke-width="1.265" vector-effect="non-scaling-stroke"/>
<path d="M697.5,152.5 Q716.5,172 698.5,191.5" fill="none" stroke="#444" stroke-width="1.265" vector-effect="non-scaling-stroke"/>
</g>
</g>
<path d="M57.5,1349.5 C110,1360 240,1372 300.6,1352.4" fill="none" stroke="#111" stroke-width="2.3" />
<rect x="300.60" y="1341.20" width="17.60" height="21.40" rx="0" ry="0" fill="#fff" stroke="#1c1c1c" stroke-width="1.3" />
<rect x="303.06" y="1343.77" width="3.52" height="15.84" rx="0" ry="0" fill="#d0d0d0" stroke="#555" stroke-width="0.78" />
<rect x="307.64" y="1343.77" width="3.52" height="15.84" rx="0" ry="0" fill="#d0d0d0" stroke="#555" stroke-width="0.78" />
<rect x="312.22" y="1343.77" width="3.52" height="15.84" rx="0" ry="0" fill="#d0d0d0" stroke="#555" stroke-width="0.78" />
<rect x="318.20" y="1338.00" width="35.60" height="26.60" rx="0" ry="0" fill="#fff" stroke="#1c1c1c" stroke-width="1.3" />
<rect x="431.00" y="1341.20" width="17.50" height="21.40" rx="0" ry="0" fill="#fff" stroke="#1c1c1c" stroke-width="1.3" />
<rect x="433.45" y="1343.77" width="3.50" height="15.84" rx="0" ry="0" fill="#d0d0d0" stroke="#555" stroke-width="0.78" />
<rect x="438.00" y="1343.77" width="3.50" height="15.84" rx="0" ry="0" fill="#d0d0d0" stroke="#555" stroke-width="0.78" />
<rect x="442.55" y="1343.77" width="3.50" height="15.84" rx="0" ry="0" fill="#d0d0d0" stroke="#555" stroke-width="0.78" />
<rect x="395.30" y="1338.00" width="35.70" height="26.60" rx="0" ry="0" fill="#fff" stroke="#1c1c1c" stroke-width="1.3" />
<rect x="352.20" y="1330.10" width="42.10" height="42.60" rx="11" ry="11" fill="#fff" stroke="#1c1c1c" stroke-width="1.4" />
<path d="M339,1346.85 L348,1344.35 V1358.85 L339,1356.35 Z" fill="#888" stroke="#888" stroke-width="0.3" fill-opacity="0.6"/>
<line x1="339.00" y1="1346.85" x2="339.00" y2="1356.35" stroke="#888" stroke-width="0.6" />
<line x1="340.50" y1="1346.43" x2="340.50" y2="1356.77" stroke="#888" stroke-width="0.6" />
<line x1="342.00" y1="1346.02" x2="342.00" y2="1357.18" stroke="#888" stroke-width="0.6" />
<line x1="343.50" y1="1345.60" x2="343.50" y2="1357.60" stroke="#888" stroke-width="0.6" />
<line x1="345.00" y1="1345.18" x2="345.00" y2="1358.02" stroke="#888" stroke-width="0.6" />
<line x1="346.50" y1="1344.77" x2="346.50" y2="1358.43" stroke="#888" stroke-width="0.6" />
<line x1="348.00" y1="1344.35" x2="348.00" y2="1358.85" stroke="#888" stroke-width="0.6" />
<path d="M407.6,1346.85 L398.6,1344.35 V1358.85 L407.6,1356.35 Z" fill="#888" stroke="#888" stroke-width="0.3" fill-opacity="0.6"/>
<line x1="407.60" y1="1346.85" x2="407.60" y2="1356.35" stroke="#888" stroke-width="0.6" />
<line x1="406.10" y1="1346.43" x2="406.10" y2="1356.77" stroke="#888" stroke-width="0.6" />
<line x1="404.60" y1="1346.02" x2="404.60" y2="1357.18" stroke="#888" stroke-width="0.6" />
<line x1="403.10" y1="1345.60" x2="403.10" y2="1357.60" stroke="#888" stroke-width="0.6" />
<line x1="401.60" y1="1345.18" x2="401.60" y2="1358.02" stroke="#888" stroke-width="0.6" />
<line x1="400.10" y1="1344.77" x2="400.10" y2="1358.43" stroke="#888" stroke-width="0.6" />
<line x1="398.60" y1="1344.35" x2="398.60" y2="1358.85" stroke="#888" stroke-width="0.6" />
<path d="M448.5,1351.5 C452,1351.5 455,1351.0 458.1,1350.5" fill="none" stroke="#111" stroke-width="1.8" />
<rect x="466.40" y="1312.80" width="8.40" height="20.30" rx="0.6" ry="0.6" fill="#fff" stroke="#222" stroke-width="1.7" />
<rect x="465.00" y="1297.00" width="11.20" height="16.80" rx="2.6" ry="2.6" fill="#fff" stroke="#222" stroke-width="1.7" />
<line x1="465.60" y1="1301.60" x2="475.60" y2="1301.60" stroke="#777" stroke-width="1.19" />
<line x1="466.40" y1="1315.70" x2="474.80" y2="1315.70" stroke="#222" stroke-width="1.36" />
<path d="M470.0,1333.1 V1337.1 C469.1,1343.2 465.4,1350.3 458.1,1350.5" fill="none" stroke="#111" stroke-width="2.0" />
<path d="M471.2,1333.1 V1337.1 C472.1,1343.2 475.9,1350.3 483.1,1350.5" fill="none" stroke="#111" stroke-width="2.0" />
<rect x="566.80" y="1312.80" width="8.40" height="20.30" rx="0.6" ry="0.6" fill="#fff" stroke="#222" stroke-width="1.7" />
<rect x="565.40" y="1297.00" width="11.20" height="16.80" rx="2.6" ry="2.6" fill="#fff" stroke="#222" stroke-width="1.7" />
<line x1="566.00" y1="1301.60" x2="576.00" y2="1301.60" stroke="#777" stroke-width="1.19" />
<line x1="566.80" y1="1315.70" x2="575.20" y2="1315.70" stroke="#222" stroke-width="1.36" />
<path d="M570.4,1333.1 V1337.1 C569.5,1343.2 565.8,1350.3 558.5,1350.5" fill="none" stroke="#111" stroke-width="2.0" />
<path d="M571.6,1333.1 V1337.1 C572.5,1343.2 576.2,1350.3 583.5,1350.5" fill="none" stroke="#111" stroke-width="2.0" />
<rect x="667.80" y="1312.80" width="8.40" height="20.30" rx="0.6" ry="0.6" fill="#fff" stroke="#222" stroke-width="1.7" />
<rect x="666.40" y="1297.00" width="11.20" height="16.80" rx="2.6" ry="2.6" fill="#fff" stroke="#222" stroke-width="1.7" />
<line x1="667.00" y1="1301.60" x2="677.00" y2="1301.60" stroke="#777" stroke-width="1.19" />
<line x1="667.80" y1="1315.70" x2="676.20" y2="1315.70" stroke="#222" stroke-width="1.36" />
<path d="M671.4,1333.1 V1337.1 C670.5,1343.2 666.8,1350.3 659.5,1350.5" fill="none" stroke="#111" stroke-width="2.0" />
<path d="M672.6,1333.1 V1337.1 C673.5,1343.2 677.2,1350.3 684.5,1350.5" fill="none" stroke="#111" stroke-width="2.0" />
<path d="M483.1,1350.5 Q489.4,1352.5 495.7,1351.0 Q502.0,1349.5 508.2,1351.0 Q514.5,1352.5 520.8,1351.0 Q527.1,1349.5 533.4,1351.0 Q539.7,1352.5 545.9,1351.0 Q552.2,1349.5 558.5,1350.5" fill="none" stroke="#111" stroke-width="2.0" />
<path d="M483.1,1350.5 Q489.4,1349.5 495.7,1351.0 Q502.0,1352.5 508.2,1351.0 Q514.5,1349.5 520.8,1351.0 Q527.1,1352.5 533.4,1351.0 Q539.7,1349.5 545.9,1351.0 Q552.2,1352.5 558.5,1350.5" fill="none" stroke="#666" stroke-width="1.4" />
<path d="M583.5,1350.5 Q589.8,1352.5 596.2,1351.0 Q602.5,1349.5 608.8,1351.0 Q615.2,1352.5 621.5,1351.0 Q627.8,1349.5 634.2,1351.0 Q640.5,1352.5 646.8,1351.0 Q653.2,1349.5 659.5,1350.5" fill="none" stroke="#111" stroke-width="2.0" />
<path d="M583.5,1350.5 Q589.8,1349.5 596.2,1351.0 Q602.5,1352.5 608.8,1351.0 Q615.2,1349.5 621.5,1351.0 Q627.8,1352.5 634.2,1351.0 Q640.5,1349.5 646.8,1351.0 Q653.2,1352.5 659.5,1350.5" fill="none" stroke="#666" stroke-width="1.4" />
<path d="M684.5,1350.5 Q694,1352.0 699.8,1350.5" fill="none" stroke="#111" stroke-width="2.0" />
<rect x="699.70" y="1332.70" width="23.90" height="26.90" rx="0" ry="0" fill="#fff" stroke="#1c1c1c" stroke-width="1.8" />
<rect x="703.05" y="1335.39" width="4.78" height="20.44" rx="0" ry="0" fill="#fff" stroke="#1c1c1c" stroke-width="1.35" />
<rect x="709.26" y="1335.39" width="4.78" height="20.44" rx="0" ry="0" fill="#fff" stroke="#1c1c1c" stroke-width="1.35" />
<rect x="715.47" y="1335.39" width="4.78" height="20.44" rx="0" ry="0" fill="#fff" stroke="#1c1c1c" stroke-width="1.35" />
<rect x="723.60" y="1329.30" width="45.80" height="35.50" rx="0" ry="0" fill="#fff" stroke="#1c1c1c" stroke-width="1.8" />
<path d="M751.7,1340.0 L764.7,1336.25 V1356.75 L751.7,1353.0 Z" fill="#777" stroke="#777" stroke-width="0.3" fill-opacity="0.6"/>
<line x1="751.70" y1="1340.00" x2="751.70" y2="1353.00" stroke="#777" stroke-width="0.6" />
<line x1="753.00" y1="1339.62" x2="753.00" y2="1353.38" stroke="#777" stroke-width="0.6" />
<line x1="754.30" y1="1339.25" x2="754.30" y2="1353.75" stroke="#777" stroke-width="0.6" />
<line x1="755.60" y1="1338.88" x2="755.60" y2="1354.12" stroke="#777" stroke-width="0.6" />
<line x1="756.90" y1="1338.50" x2="756.90" y2="1354.50" stroke="#777" stroke-width="0.6" />
<line x1="758.20" y1="1338.12" x2="758.20" y2="1354.88" stroke="#777" stroke-width="0.6" />
<line x1="759.50" y1="1337.75" x2="759.50" y2="1355.25" stroke="#777" stroke-width="0.6" />
<line x1="760.80" y1="1337.38" x2="760.80" y2="1355.62" stroke="#777" stroke-width="0.6" />
<line x1="762.10" y1="1337.00" x2="762.10" y2="1356.00" stroke="#777" stroke-width="0.6" />
<line x1="763.40" y1="1336.62" x2="763.40" y2="1356.38" stroke="#777" stroke-width="0.6" />
<line x1="764.70" y1="1336.25" x2="764.70" y2="1356.75" stroke="#777" stroke-width="0.6" />
<rect x="768.50" y="1319.00" width="57.90" height="56.60" rx="14" ry="14" fill="#fff" stroke="#1c1c1c" stroke-width="1.9" />
<clipPath id="th3"><path d="M851.576,1325.2 H873.0 Q875,1325.2 875,1327.2 V1369.9 Q875,1371.9 873.0,1371.9 H851.576 Q838.5,1371.9 838.5,1358.824 V1338.276 Q838.5,1325.2 851.576,1325.2 Z"/></clipPath>
<path d="M851.576,1325.2 H873.0 Q875,1325.2 875,1327.2 V1369.9 Q875,1371.9 873.0,1371.9 H851.576 Q838.5,1371.9 838.5,1358.824 V1338.276 Q838.5,1325.2 851.576,1325.2 Z" fill="#fff" stroke="none" stroke-width="0" />
<g clip-path="url(#th3)">
<path d="M841.00,1324.20 Q849.76,1348.55 841.00,1372.90" fill="none" stroke="#8a8a8a" stroke-width="0.8" />
<path d="M843.30,1324.20 Q852.06,1348.55 843.30,1372.90" fill="none" stroke="#8a8a8a" stroke-width="0.8" />
<path d="M845.60,1324.20 Q854.36,1348.55 845.60,1372.90" fill="none" stroke="#8a8a8a" stroke-width="0.8" />
<path d="M847.90,1324.20 Q856.66,1348.55 847.90,1372.90" fill="none" stroke="#8a8a8a" stroke-width="0.8" />
<path d="M850.20,1324.20 Q858.96,1348.55 850.20,1372.90" fill="none" stroke="#8a8a8a" stroke-width="0.8" />
<path d="M852.50,1324.20 Q861.26,1348.55 852.50,1372.90" fill="none" stroke="#8a8a8a" stroke-width="0.8" />
<path d="M854.80,1324.20 Q863.56,1348.55 854.80,1372.90" fill="none" stroke="#8a8a8a" stroke-width="0.8" />
<path d="M857.10,1324.20 Q865.86,1348.55 857.10,1372.90" fill="none" stroke="#8a8a8a" stroke-width="0.8" />
<path d="M859.40,1324.20 Q868.16,1348.55 859.40,1372.90" fill="none" stroke="#8a8a8a" stroke-width="0.8" />
<path d="M861.70,1324.20 Q870.46,1348.55 861.70,1372.90" fill="none" stroke="#8a8a8a" stroke-width="0.8" />
<path d="M864.00,1324.20 Q872.76,1348.55 864.00,1372.90" fill="none" stroke="#8a8a8a" stroke-width="0.8" />
<path d="M866.30,1324.20 Q875.06,1348.55 866.30,1372.90" fill="none" stroke="#8a8a8a" stroke-width="0.8" />
<path d="M868.60,1324.20 Q877.36,1348.55 868.60,1372.90" fill="none" stroke="#8a8a8a" stroke-width="0.8" />
<path d="M870.90,1324.20 Q879.66,1348.55 870.90,1372.90" fill="none" stroke="#8a8a8a" stroke-width="0.8" />
<path d="M873.20,1324.20 Q881.96,1348.55 873.20,1372.90" fill="none" stroke="#8a8a8a" stroke-width="0.8" />
</g>
<path d="M851.576,1325.2 H873.0 Q875,1325.2 875,1327.2 V1369.9 Q875,1371.9 873.0,1371.9 H851.576 Q838.5,1371.9 838.5,1358.824 V1338.276 Q838.5,1325.2 851.576,1325.2 Z" fill="none" stroke="#444" stroke-width="1.0" />
<rect x="874.00" y="1328.40" width="52.40" height="39.20" rx="0" ry="0" fill="#fff" stroke="#1c1c1c" stroke-width="1.8" />
<path d="M887,1335.35 L903,1340.0 V1355.0 L887,1359.65 Z" fill="#3a3a3a" stroke="#3a3a3a" stroke-width="0.3" fill-opacity="0.6"/>
<line x1="887.00" y1="1335.35" x2="887.00" y2="1359.65" stroke="#3a3a3a" stroke-width="0.6" />
<line x1="888.33" y1="1335.74" x2="888.33" y2="1359.26" stroke="#3a3a3a" stroke-width="0.6" />
<line x1="889.67" y1="1336.12" x2="889.67" y2="1358.88" stroke="#3a3a3a" stroke-width="0.6" />
<line x1="891.00" y1="1336.51" x2="891.00" y2="1358.49" stroke="#3a3a3a" stroke-width="0.6" />
<line x1="892.33" y1="1336.90" x2="892.33" y2="1358.10" stroke="#3a3a3a" stroke-width="0.6" />
<line x1="893.67" y1="1337.29" x2="893.67" y2="1357.71" stroke="#3a3a3a" stroke-width="0.6" />
<line x1="895.00" y1="1337.67" x2="895.00" y2="1357.33" stroke="#3a3a3a" stroke-width="0.6" />
<line x1="896.33" y1="1338.06" x2="896.33" y2="1356.94" stroke="#3a3a3a" stroke-width="0.6" />
<line x1="897.67" y1="1338.45" x2="897.67" y2="1356.55" stroke="#3a3a3a" stroke-width="0.6" />
<line x1="899.00" y1="1338.84" x2="899.00" y2="1356.16" stroke="#3a3a3a" stroke-width="0.6" />
<line x1="900.33" y1="1339.22" x2="900.33" y2="1355.78" stroke="#3a3a3a" stroke-width="0.6" />
<line x1="901.67" y1="1339.61" x2="901.67" y2="1355.39" stroke="#3a3a3a" stroke-width="0.6" />
<line x1="903.00" y1="1340.00" x2="903.00" y2="1355.00" stroke="#3a3a3a" stroke-width="0.6" />
<rect x="926.40" y="1332.00" width="26.10" height="30.00" rx="0" ry="0" fill="#fff" stroke="#1c1c1c" stroke-width="1.8" />
<rect x="930.05" y="1335.00" width="5.22" height="22.80" rx="0" ry="0" fill="#fff" stroke="#1c1c1c" stroke-width="1.35" />
<rect x="936.84" y="1335.00" width="5.22" height="22.80" rx="0" ry="0" fill="#fff" stroke="#1c1c1c" stroke-width="1.35" />
<rect x="943.63" y="1335.00" width="5.22" height="22.80" rx="0" ry="0" fill="#fff" stroke="#1c1c1c" stroke-width="1.35" />
<path d="M951,1348.5 C990,1346.5 1010,1348.5 1030,1351.5 Q1040,1352.0 1048.5,1350.5" fill="none" stroke="#111" stroke-width="2.2" />
<rect x="1056.80" y="1312.80" width="8.40" height="20.30" rx="0.6" ry="0.6" fill="#fff" stroke="#222" stroke-width="1.7" />
<rect x="1055.40" y="1297.00" width="11.20" height="16.80" rx="2.6" ry="2.6" fill="#fff" stroke="#222" stroke-width="1.7" />
<line x1="1056.00" y1="1301.60" x2="1066.00" y2="1301.60" stroke="#777" stroke-width="1.19" />
<line x1="1056.80" y1="1315.70" x2="1065.20" y2="1315.70" stroke="#222" stroke-width="1.36" />
<path d="M1060.4,1333.1 V1337.1 C1059.5,1343.2 1055.8,1350.3 1048.5,1350.5" fill="none" stroke="#111" stroke-width="2.0" />
<path d="M1061.6,1333.1 V1337.1 C1062.5,1343.2 1066.2,1350.3 1073.5,1350.5" fill="none" stroke="#111" stroke-width="2.0" />
<rect x="1158.30" y="1312.80" width="8.40" height="20.30" rx="0.6" ry="0.6" fill="#fff" stroke="#222" stroke-width="1.7" />
<rect x="1156.90" y="1297.00" width="11.20" height="16.80" rx="2.6" ry="2.6" fill="#fff" stroke="#222" stroke-width="1.7" />
<line x1="1157.50" y1="1301.60" x2="1167.50" y2="1301.60" stroke="#777" stroke-width="1.19" />
<line x1="1158.30" y1="1315.70" x2="1166.70" y2="1315.70" stroke="#222" stroke-width="1.36" />
<path d="M1161.9,1333.1 V1337.1 C1161.0,1343.2 1157.2,1350.3 1150.0,1350.5" fill="none" stroke="#111" stroke-width="2.0" />
<path d="M1163.1,1333.1 V1337.1 C1164.0,1343.2 1167.8,1350.3 1175.0,1350.5" fill="none" stroke="#111" stroke-width="2.0" />
<rect x="1259.10" y="1312.80" width="8.40" height="20.30" rx="0.6" ry="0.6" fill="#fff" stroke="#222" stroke-width="1.7" />
<rect x="1257.70" y="1297.00" width="11.20" height="16.80" rx="2.6" ry="2.6" fill="#fff" stroke="#222" stroke-width="1.7" />
<line x1="1258.30" y1="1301.60" x2="1268.30" y2="1301.60" stroke="#777" stroke-width="1.19" />
<line x1="1259.10" y1="1315.70" x2="1267.50" y2="1315.70" stroke="#222" stroke-width="1.36" />
<path d="M1262.7,1333.1 V1337.1 C1261.8,1343.2 1258.0,1350.3 1250.8,1350.5" fill="none" stroke="#111" stroke-width="2.0" />
<path d="M1263.9,1333.1 V1337.1 C1264.8,1343.2 1268.5,1350.3 1275.8,1350.5" fill="none" stroke="#111" stroke-width="2.0" />
<path d="M1073.5,1350.5 Q1079.9,1352.5 1086.2,1351.0 Q1092.6,1349.5 1099.0,1351.0 Q1105.4,1352.5 1111.8,1351.0 Q1118.1,1349.5 1124.5,1351.0 Q1130.9,1352.5 1137.2,1351.0 Q1143.6,1349.5 1150.0,1350.5" fill="none" stroke="#111" stroke-width="2.0" />
<path d="M1073.5,1350.5 Q1079.9,1349.5 1086.2,1351.0 Q1092.6,1352.5 1099.0,1351.0 Q1105.4,1349.5 1111.8,1351.0 Q1118.1,1352.5 1124.5,1351.0 Q1130.9,1349.5 1137.2,1351.0 Q1143.6,1352.5 1150.0,1350.5" fill="none" stroke="#666" stroke-width="1.4" />
<path d="M1175.0,1350.5 Q1181.3,1352.5 1187.6,1351.0 Q1193.9,1349.5 1200.3,1351.0 Q1206.6,1352.5 1212.9,1351.0 Q1219.2,1349.5 1225.5,1351.0 Q1231.8,1352.5 1238.2,1351.0 Q1244.5,1349.5 1250.8,1350.5" fill="none" stroke="#111" stroke-width="2.0" />
<path d="M1175.0,1350.5 Q1181.3,1349.5 1187.6,1351.0 Q1193.9,1352.5 1200.3,1351.0 Q1206.6,1349.5 1212.9,1351.0 Q1219.2,1352.5 1225.5,1351.0 Q1231.8,1349.5 1238.2,1351.0 Q1244.5,1352.5 1250.8,1350.5" fill="none" stroke="#666" stroke-width="1.4" />
<path d="M1275.8,1350.5 C1295,1353.5 1305,1345.5 1349.6,1344.0" fill="none" stroke="#111" stroke-width="2.7" />
<ellipse cx="1340.3" cy="1342.8" rx="4.4" ry="11.6" fill="none" stroke="#111" stroke-width="2.3"/>
<rect x="1349.80" y="1332.90" width="17.30" height="22.00" rx="0" ry="0" fill="#fff" stroke="#1c1c1c" stroke-width="1.7" />
<rect x="1352.22" y="1335.10" width="5.71" height="16.72" rx="0" ry="0" fill="#fff" stroke="#1c1c1c" stroke-width="1.275" />
<rect x="1358.97" y="1335.10" width="5.71" height="16.72" rx="0" ry="0" fill="#fff" stroke="#1c1c1c" stroke-width="1.275" />
<rect x="1367.10" y="1330.70" width="33.80" height="26.40" rx="0" ry="0" fill="#fff" stroke="#1c1c1c" stroke-width="1.7" />
<path d="M1387.5,1338.1 L1397.4,1335.1 V1351.5 L1387.5,1348.5 Z" fill="#333" stroke="#333" stroke-width="0.3" fill-opacity="0.6"/>
<line x1="1387.50" y1="1338.10" x2="1387.50" y2="1348.50" stroke="#333" stroke-width="0.6" />
<line x1="1388.91" y1="1337.67" x2="1388.91" y2="1348.93" stroke="#333" stroke-width="0.6" />
<line x1="1390.33" y1="1337.24" x2="1390.33" y2="1349.36" stroke="#333" stroke-width="0.6" />
<line x1="1391.74" y1="1336.81" x2="1391.74" y2="1349.79" stroke="#333" stroke-width="0.6" />
<line x1="1393.16" y1="1336.39" x2="1393.16" y2="1350.21" stroke="#333" stroke-width="0.6" />
<line x1="1394.57" y1="1335.96" x2="1394.57" y2="1350.64" stroke="#333" stroke-width="0.6" />
<line x1="1395.99" y1="1335.53" x2="1395.99" y2="1351.07" stroke="#333" stroke-width="0.6" />
<line x1="1397.40" y1="1335.10" x2="1397.40" y2="1351.50" stroke="#333" stroke-width="0.6" />
<rect x="1400.40" y="1322.90" width="36.00" height="41.50" rx="10" ry="10" fill="#fff" stroke="#1c1c1c" stroke-width="1.8" />
<path d="M1436.4,1339.6 H1440.6 L1442.8,1341.7 L1440.6,1343.8 H1436.4" fill="#fff" stroke="#555" stroke-width="0.8" />
<path d="M1340.5,1354.5 C1346,1371 1366,1383.5 1391,1384 C1420,1383.5 1438,1370 1439.2,1344.5" fill="none" stroke="#111" stroke-width="2.4" />
</svg>
</body>
</html>
